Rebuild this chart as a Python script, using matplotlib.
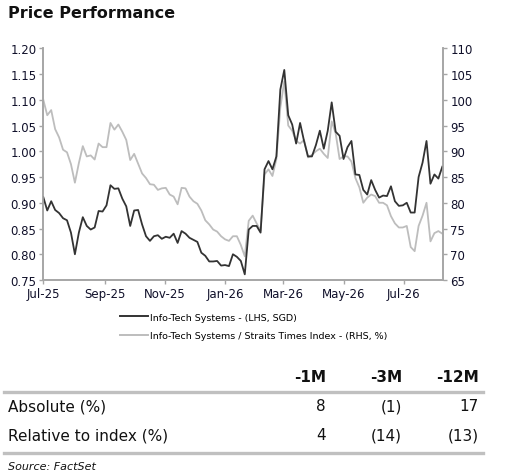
import matplotlib
matplotlib.use("Agg")
import matplotlib.pyplot as plt
import matplotlib.dates as mdates
from matplotlib.lines import Line2D
import pandas as pd

# data, sampled every 4 days from 1 Jul 2025
start = "2025-07-01"
step = "4D"

price = [0.911, 0.885, 0.903, 0.886, 0.880, 0.870, 0.866, 0.842, 0.800, 0.842,
         0.872, 0.855, 0.848, 0.852, 0.884, 0.883, 0.895, 0.934, 0.927, 0.928,
         0.908, 0.893, 0.855, 0.885, 0.886, 0.858, 0.835, 0.826, 0.835, 0.837,
         0.830, 0.834, 0.832, 0.840, 0.822, 0.845, 0.840, 0.832, 0.828, 0.824,
         0.803, 0.797, 0.786, 0.786, 0.787, 0.778, 0.779, 0.777, 0.800, 0.795,
         0.787, 0.761, 0.848, 0.855, 0.855, 0.842, 0.965, 0.981, 0.965, 0.990,
         1.120, 1.158, 1.070, 1.052, 1.015, 1.055, 1.020, 0.990, 0.990, 1.012,
         1.040, 1.005, 1.040, 1.095, 1.038, 1.030, 0.985, 1.008, 1.020, 0.955,
         0.954, 0.925, 0.916, 0.944, 0.925, 0.910, 0.914, 0.913, 0.932, 0.903,
         0.894, 0.895, 0.900, 0.881, 0.881, 0.950, 0.978, 1.020, 0.937, 0.955,
         0.947, 0.970]

relative = [100.0, 97.0, 98.0, 94.3, 92.7, 90.3, 89.8, 87.5, 83.9, 87.7,
            91.0, 89.0, 89.2, 88.4, 91.5, 90.8, 90.8, 95.5, 94.2, 95.2,
            93.8, 92.2, 88.3, 89.5, 87.6, 85.7, 84.8, 83.6, 83.5, 82.5,
            82.8, 82.9, 81.6, 81.2, 79.7, 82.9, 82.8, 81.2, 80.3, 79.8,
            78.5, 76.6, 75.8, 74.8, 74.4, 73.5, 72.9, 72.6, 73.5, 73.5,
            71.8, 69.6, 76.5, 77.5, 76.0, 74.6, 85.5, 86.5, 85.2, 88.5,
            98.5, 103.6, 95.0, 94.0, 92.0, 91.5, 92.2, 88.8, 89.3, 90.0,
            90.5, 89.5, 88.7, 95.8, 93.5, 88.5, 89.0, 89.0, 88.0, 84.8,
            83.0, 80.0, 81.0, 81.6, 81.3, 80.0, 80.0, 79.5, 77.4, 76.0,
            75.2, 75.2, 75.5, 71.4, 70.6, 75.5, 77.5, 80.0, 72.5, 74.1,
            74.5, 74.0]

dates = pd.date_range(start, periods=len(price), freq=step)

table_cols = ["-1M", "-3M", "-12M"]
table_rows = ["Absolute (%)", "Relative to index (%)"]
table_vals = [["8", "(1)", "17"], ["4", "(14)", "(13)"]]

dark = "#333333"
light = "#bdbdbd"
axis_col = "#a6a6a6"

plt.rcParams["font.family"] = ["DejaVu Sans"]

W, H = 506, 477
fig = plt.figure(figsize=(W / 100, H / 100), dpi=100)
ax = fig.add_axes([43.3 / W, 1 - 281 / H, 400 / W, (281 - 49.3) / H])
ax2 = ax.twinx()

ax2.plot(dates, relative, color=light, lw=1.3)
ax.plot(dates, price, color=dark, lw=1.3)
ax.set_zorder(ax2.get_zorder() + 1)
ax.patch.set_visible(False)

ax.set_ylim(0.75, 1.20)
ax.set_yticks([0.75 + 0.05 * i for i in range(10)])
ax.yaxis.set_major_formatter(matplotlib.ticker.FormatStrFormatter("%.2f"))
ax2.set_ylim(65, 110)
ax2.set_yticks(range(65, 111, 5))
ax.set_xlim(pd.Timestamp("2025-07-01"), dates[-1] + pd.Timedelta(days=1))
ax.xaxis.set_major_locator(mdates.MonthLocator(bymonth=[1, 3, 5, 7, 9, 11]))
ax.xaxis.set_major_formatter(mdates.DateFormatter("%b-%y"))

for a in (ax, ax2):
    a.spines["top"].set_visible(False)
    for s in ("left", "right", "bottom"):
        a.spines[s].set_color(axis_col)
        a.spines[s].set_linewidth(1.2)
    a.tick_params(colors=axis_col, labelcolor="#10102a", labelsize=8.5,
                  length=3, width=1.0, pad=2)

handles = [Line2D([], [], color=dark, lw=1.4),
           Line2D([], [], color=light, lw=1.4)]
labels = ["Info-Tech Systems - (LHS, SGD)",
          "Info-Tech Systems / Straits Times Index - (RHS, %)"]
fig.legend(handles, labels, loc="upper left", bbox_to_anchor=(116 / W, 1 - 310 / H),
           frameon=False, fontsize=6.8, handlelength=3.0, handletextpad=0.2,
           labelspacing=1.0, borderaxespad=0)

fig.text(8 / W, 1 - 14 / H, "Price Performance", fontsize=11.5, fontweight="bold",
         va="center", ha="left", color="#111111")

col_x = [326, 402, 479]
for c, cx in zip(table_cols, col_x):
    fig.text(cx / W, 1 - 378 / H, c, fontsize=11, ha="right", va="center",
             fontweight="bold", color="#111111")
row_y = [407, 436]
for r, ry, vals in zip(table_rows, row_y, table_vals):
    fig.text(8 / W, 1 - ry / H, r, fontsize=11, ha="left", va="center", color="#111111")
    for v, cx in zip(vals, col_x):
        fig.text(cx / W, 1 - ry / H, v, fontsize=11, ha="right", va="center", color="#111111")
for ly in (393, 454):
    fig.add_artist(Line2D([4 / W, 483 / W], [1 - ly / H, 1 - ly / H],
                          color="#c0c0c0", lw=2.4, transform=fig.transFigure))
fig.text(8 / W, 1 - 467 / H, "Source: FactSet", fontsize=8, style="italic",
         ha="left", va="center", color="#111111")

fig.savefig("out.png", dpi=100)
